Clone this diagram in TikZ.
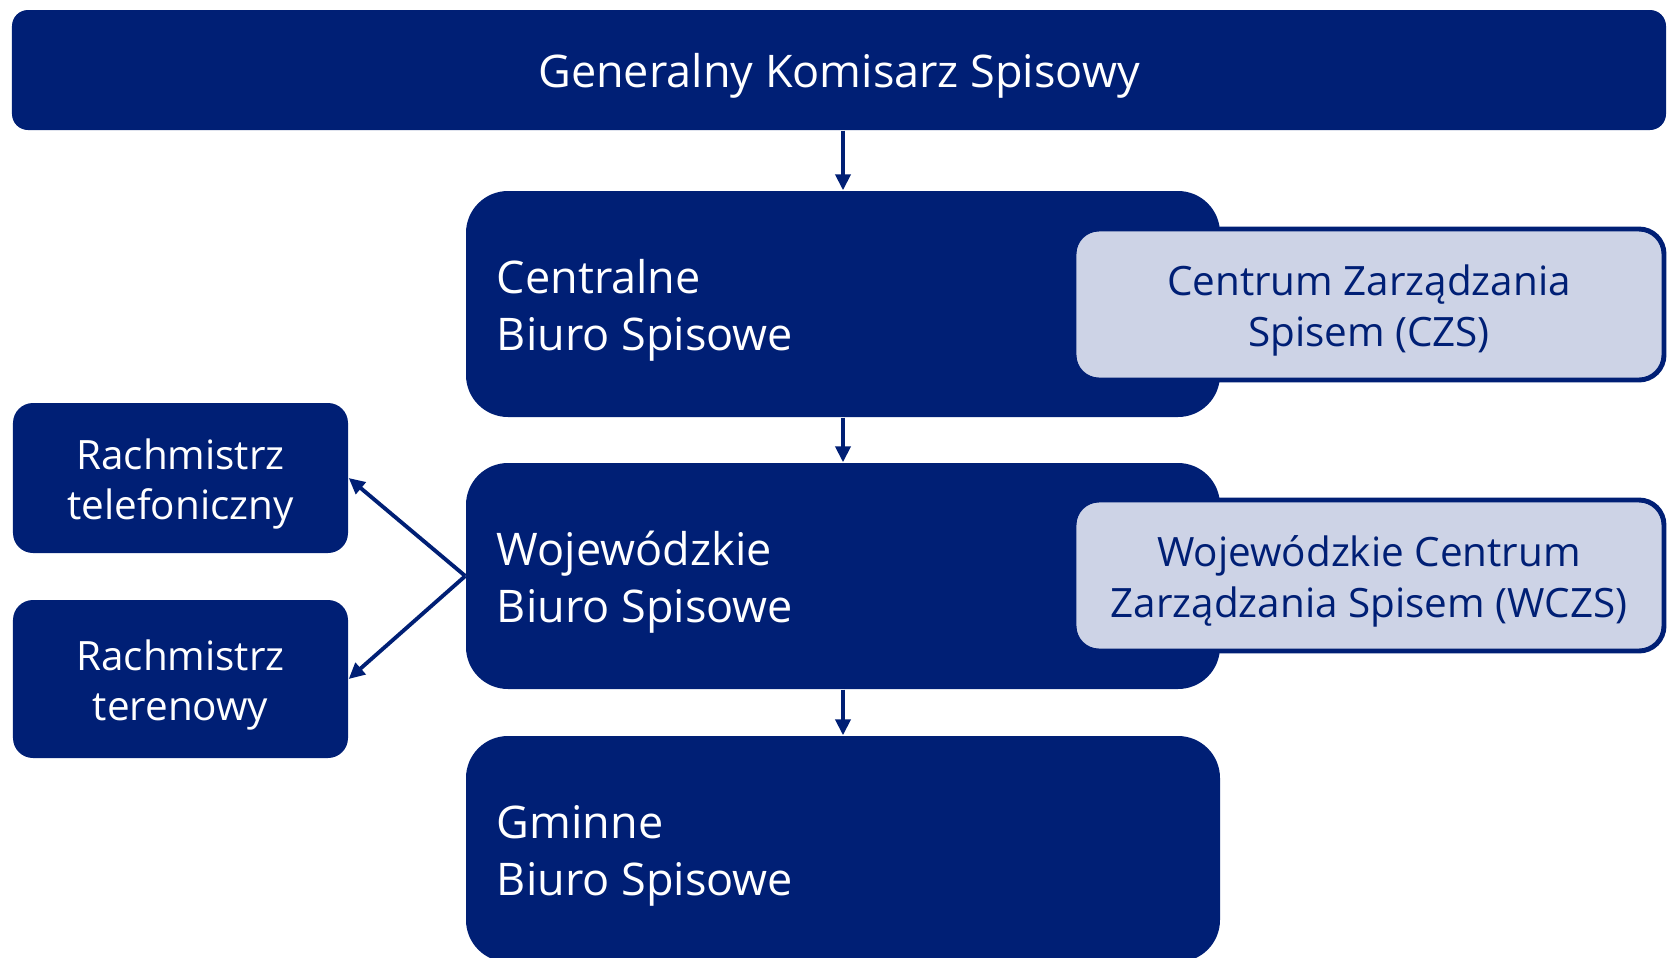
\documentclass[tikz,border=0pt]{standalone}
\usepackage{fontspec}
\setmainfont{Open Sans}
\usetikzlibrary{arrows.meta}
\definecolor{gusblue}{RGB}{0,31,117}
\definecolor{guslight}{RGB}{205,211,230}
\tikzset{
    lowered/.style={execute at begin node={\rule{0pt}{\dimexpr0.76em+0.12cm\relax}},
        execute at end node={\rule[-0.24em]{0pt}{0pt}}},
    darkbox/.style={fill=gusblue, text=white, rounded corners=0.42cm, inner sep=0pt, lowered,
        font=\fontsize{12.8pt}{16.2pt}\selectfont},
    officebox/.style={darkbox, minimum width=7.54cm, minimum height=2.26cm,
        text width=6.92cm, inner xsep=0.31cm, align=flush left},
    smallbox/.style={darkbox, rounded corners=0.2cm, text width=3.35cm, align=flush center,
        font=\fontsize{11.5pt}{14.5pt}\selectfont},
    centrebox/.style={fill=guslight, draw=gusblue, line width=1.4pt, text=gusblue, lowered,
        inner sep=0pt, rounded corners=0.25cm, text width=5.9cm, minimum height=1.51cm,
        align=flush center, font=\fontsize{11.5pt}{14.7pt}\selectfont},
    arrow/.style={-{Triangle[length=0.16cm,width=0.15cm]}, gusblue, line width=1.1pt}
}
\begin{document}
\begin{tikzpicture}
    \useasboundingbox (0,0) rectangle (16.67,-9.58);

    % Top box
    \node[darkbox, rounded corners=0.16cm, minimum width=16.54cm, minimum height=1.2cm]
        (gks) at (8.39,-0.70) {Generalny Komisarz Spisowy};

    % Census offices
    \node[officebox] (cbs) at (8.43,-3.04) {Centralne\\Biuro Spisowe};
    \node[officebox] (wbs) at (8.43,-5.76) {Wojewódzkie\\Biuro Spisowe};
    \node[officebox] (gbs) at (8.43,-8.49) {Gminne\\Biuro Spisowe};

    % Management centres
    \node[centrebox] (czs) at (13.69,-3.045) {Centrum Zarządzania\\Spisem (CZS)};
    \node[centrebox] (wczs) at (13.69,-5.755) {Wojewódzkie Centrum\\Zarządzania Spisem (WCZS)};

    % Enumerators
    \node[smallbox, minimum height=1.50cm] (rtel) at (1.805,-4.78) {Rachmistrz\\telefoniczny};
    \node[smallbox, minimum height=1.58cm] (rter) at (1.805,-6.79) {Rachmistrz\\terenowy};

    % Arrows
    \draw[arrow] (cbs.north |- gks.south) -- (cbs.north);
    \draw[arrow] (cbs.south) -- (wbs.north);
    \draw[arrow] (wbs.south) -- (gbs.north);
    \draw[arrow] (wbs.west) -- (rtel.east);
    \draw[arrow] (wbs.west) -- (rter.east);
\end{tikzpicture}
\end{document}
